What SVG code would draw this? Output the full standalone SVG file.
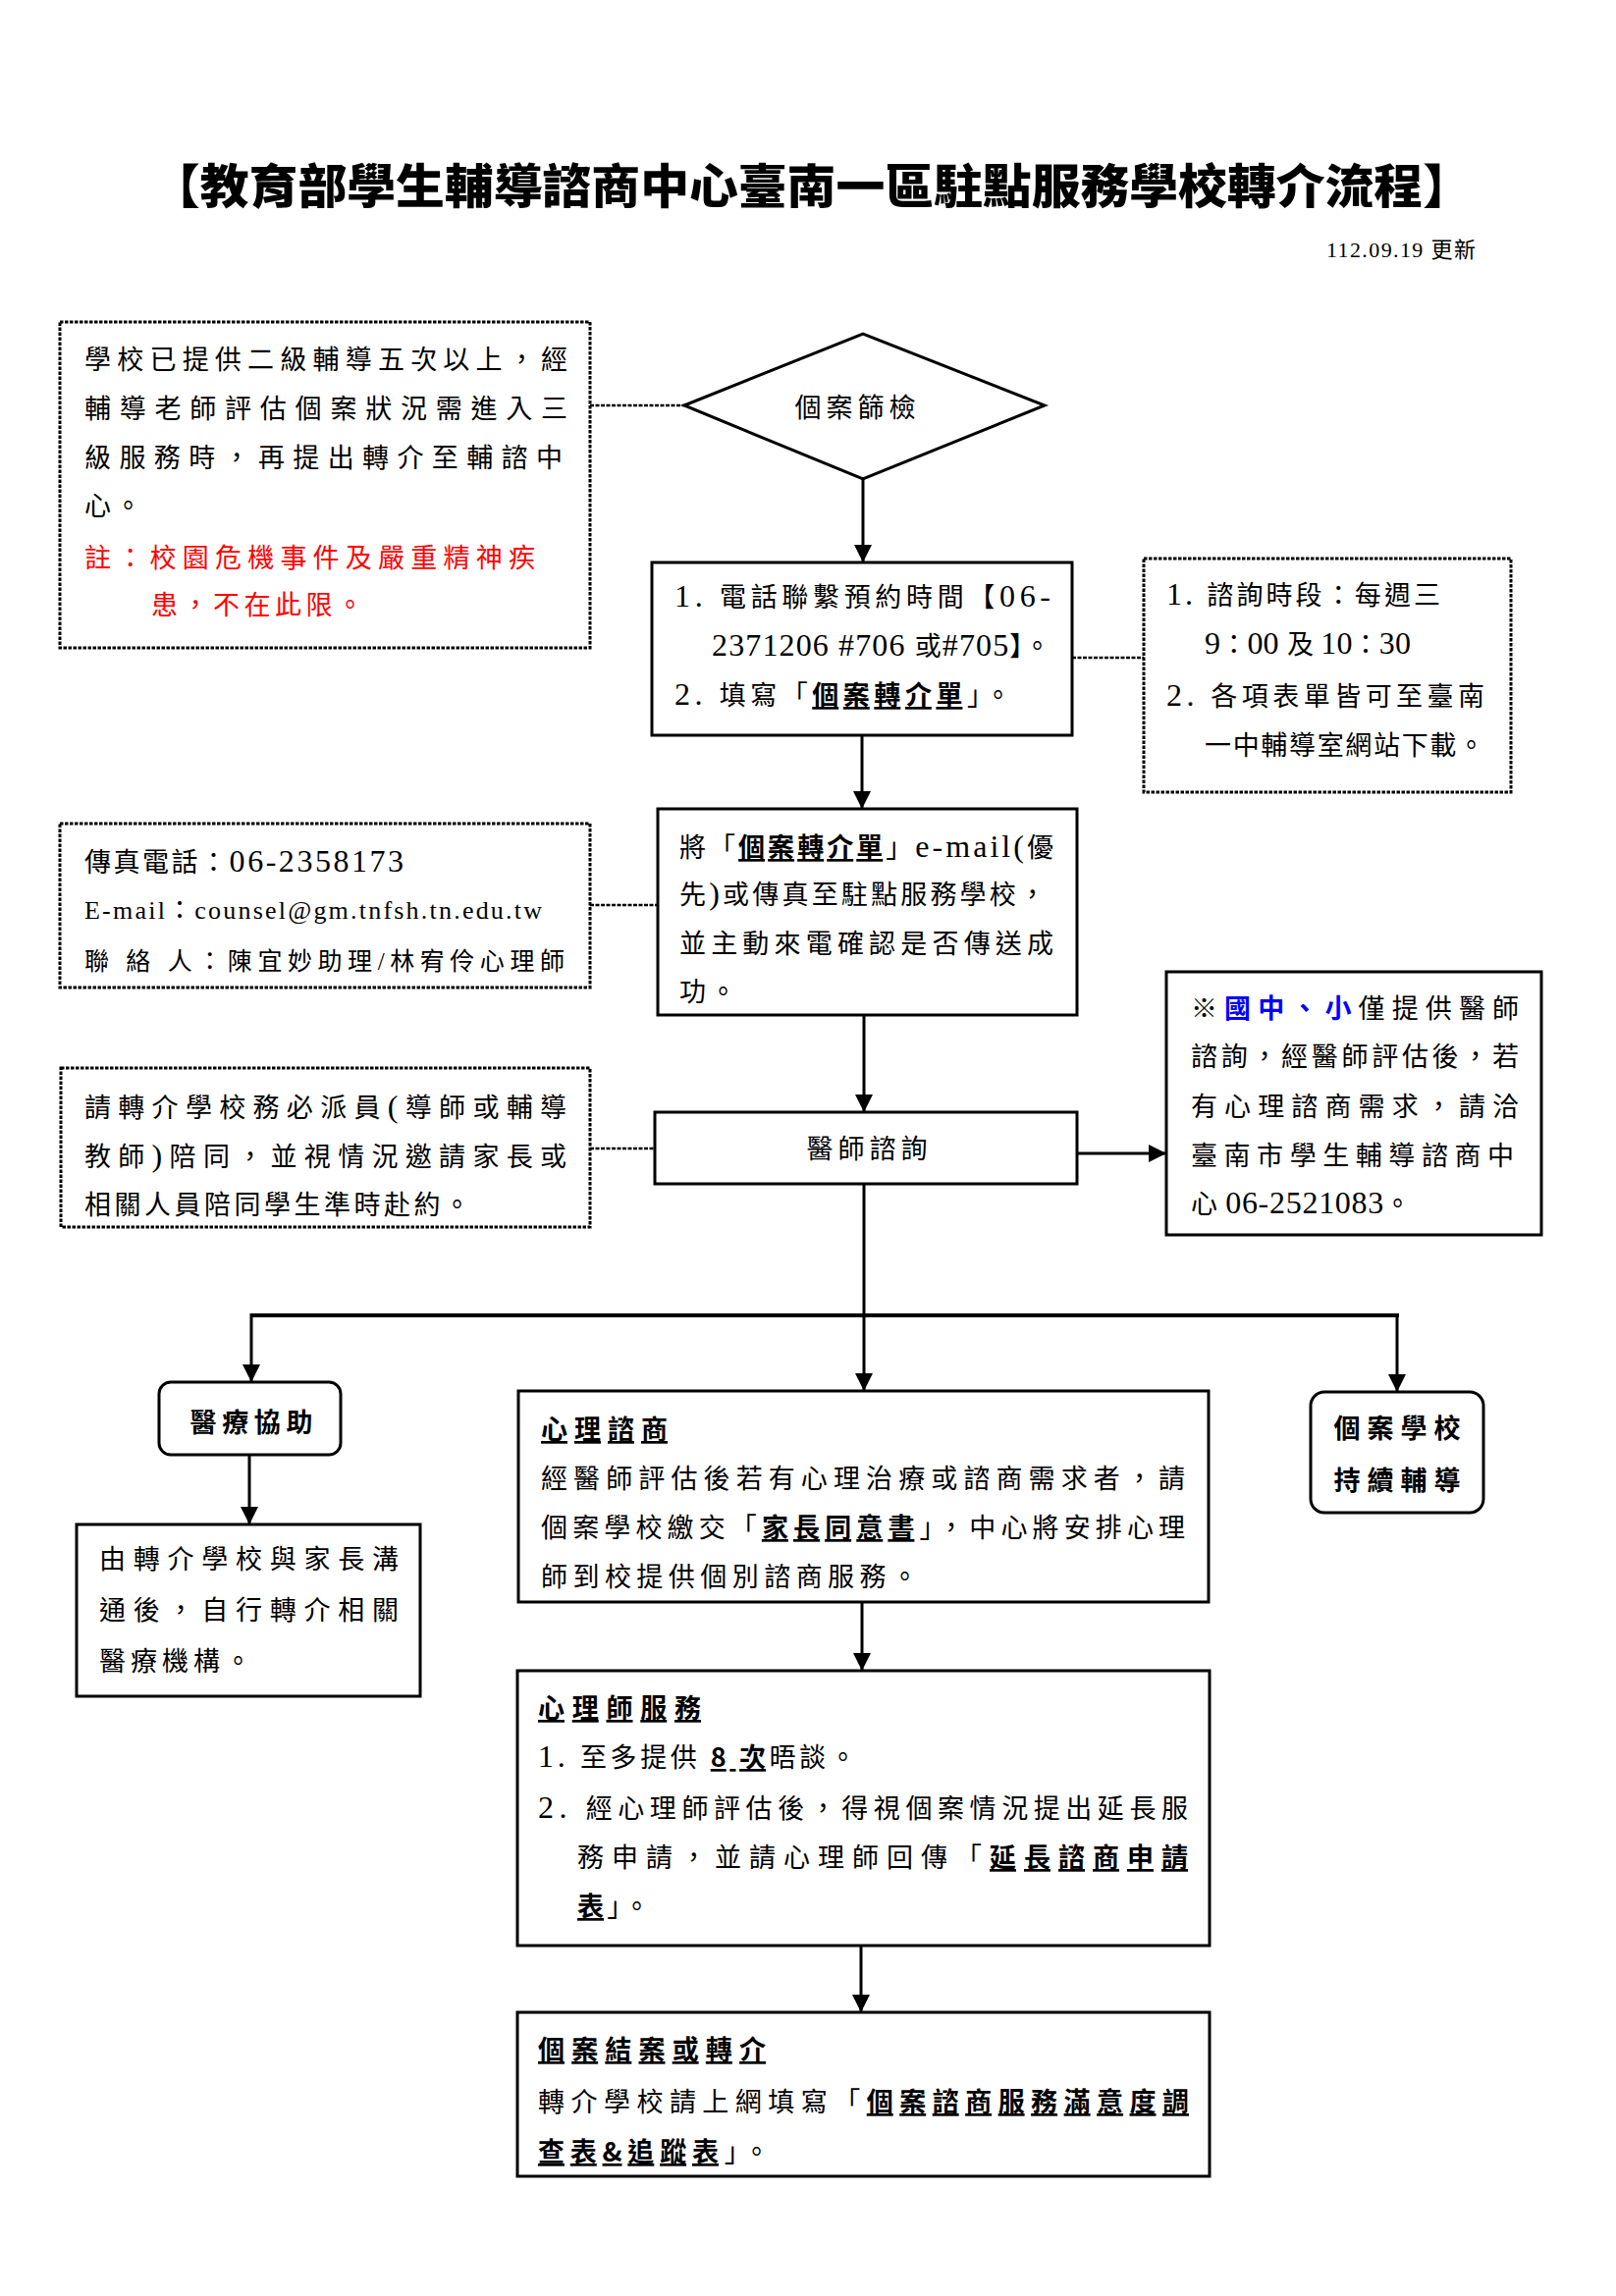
<svg xmlns="http://www.w3.org/2000/svg" width="1646" height="2339" viewBox="0 0 1646 2339">
<style>
.t{font-family:"Liberation Serif","Noto Sans CJK TC",serif;font-size:27px;fill:#000}
.ttl{font-family:"Noto Sans CJK TC",sans-serif;font-weight:900;font-size:48px;fill:#000}
.h{font-family:"Noto Sans CJK TC",sans-serif;font-weight:700}
.bu{font-family:"Noto Sans CJK TC",sans-serif;font-weight:700;text-decoration:underline}
.n{font-size:32px}
.red{fill:#ff0000}
.blue{fill:#0000ff;font-family:"Noto Sans CJK TC",sans-serif;font-weight:700}
.box{fill:#fff;stroke:#000;stroke-width:3}
.dot{fill:#fff;stroke:#000;stroke-width:3;stroke-dasharray:3.5 1.5}
.con{stroke:#000;stroke-width:3;fill:none}
.bar{stroke:#000;stroke-width:4;fill:none}
.dcon{stroke:#000;stroke-width:2.5;stroke-dasharray:4 1.5;fill:none}
</style>
<defs>
<marker id="ah" markerUnits="userSpaceOnUse" markerWidth="18" markerHeight="18" refX="18" refY="9" orient="auto">
<path d="M0,0 L18,9 L0,18 Z" fill="#000"/>
</marker>
</defs>
<rect width="1646" height="2339" fill="#fff"/>

<g id="title">
<text class="ttl" x="154" y="207" textLength="1345" lengthAdjust="spacingAndGlyphs">【教育部學生輔導諮商中心臺南一區駐點服務學校轉介流程】</text>
<text class="t" x="1351" y="262" style="font-size:22px" textLength="152">112.09.19 更新</text>
</g>

<g id="connectors">
<line class="dcon" x1="601" y1="413" x2="697" y2="413"/>
<line class="con" x1="879" y1="488" x2="879" y2="573" marker-end="url(#ah)"/>
<line class="dcon" x1="1092" y1="670" x2="1165" y2="670"/>
<line class="con" x1="878" y1="749" x2="878" y2="824" marker-end="url(#ah)"/>
<line class="dcon" x1="601" y1="922" x2="670" y2="922"/>
<line class="con" x1="880" y1="1034" x2="880" y2="1133" marker-end="url(#ah)"/>
<line class="dcon" x1="601" y1="1170" x2="667" y2="1170"/>
<line class="con" x1="1097" y1="1175" x2="1188" y2="1175" marker-end="url(#ah)"/>
<line class="con" x1="880" y1="1206" x2="880" y2="1417" marker-end="url(#ah)"/>
<line class="bar" x1="256" y1="1340" x2="1425" y2="1340"/>
<line class="con" x1="256" y1="1338" x2="256" y2="1408" marker-end="url(#ah)"/>
<line class="con" x1="1423" y1="1338" x2="1423" y2="1418" marker-end="url(#ah)"/>
<line class="con" x1="254" y1="1482" x2="254" y2="1553" marker-end="url(#ah)"/>
<line class="con" x1="878" y1="1632" x2="878" y2="1702" marker-end="url(#ah)"/>
<line class="con" x1="877" y1="1982" x2="877" y2="2050" marker-end="url(#ah)"/>
</g>

<g id="note-criteria">
<rect class="dot" x="61" y="328" width="540" height="332"/>
<text class="t" x="86" y="376" textLength="492">學校已提供二級輔導五次以上，經</text>
<text class="t" x="86" y="426" textLength="492">輔導老師評估個案狀況需進入三</text>
<text class="t" x="86" y="476" textLength="487">級服務時，再提出轉介至輔諮中</text>
<text class="t" x="86" y="525" textLength="58">心。</text>
<text class="t red" x="86" y="578" textLength="459">註：校園危機事件及嚴重精神疾</text>
<text class="t red" x="154" y="626" textLength="216">患，不在此限。</text>
</g>

<g id="screening">
<polygon class="box" points="697,413 879,340 1064,413 879,488"/>
<text class="t" x="871" y="425" text-anchor="middle" textLength="123">個案篩檢</text>
</g>

<g id="step-phone">
<rect class="box" x="664" y="573" width="428" height="176"/>
<text class="t" x="687" y="618" textLength="383"><tspan class="n">1. </tspan>電話聯繫預約時間【<tspan class="n">06-</tspan></text>
<text class="t" x="725" y="668" textLength="345"><tspan class="n">2371206 #706 </tspan>或<tspan class="n">#705</tspan>】。</text>
<text class="t" x="687" y="718" textLength="343"><tspan class="n">2. </tspan>填寫「<tspan class="bu">個案轉介單</tspan>」。</text>
</g>

<g id="note-time">
<rect class="dot" x="1165" y="569" width="374" height="238"/>
<text class="t" x="1188" y="616" textLength="279"><tspan class="n">1. </tspan>諮詢時段：每週三</text>
<text class="t" x="1227" y="666" textLength="210"><tspan class="n">9</tspan>：<tspan class="n">00 </tspan>及 <tspan class="n">10</tspan>：<tspan class="n">30</tspan></text>
<text class="t" x="1188" y="719" textLength="324"><tspan class="n">2. </tspan>各項表單皆可至臺南</text>
<text class="t" x="1227" y="769" textLength="285">一中輔導室網站下載。</text>
</g>

<g id="step-send">
<rect class="box" x="670" y="824" width="427" height="210"/>
<text class="t" x="692" y="873" textLength="381">將「<tspan class="bu">個案轉介單</tspan>」<tspan class="n">e-mail(</tspan>優</text>
<text class="t" x="692" y="921" textLength="373">先<tspan class="n">)</tspan>或傳真至駐點服務學校，</text>
<text class="t" x="692" y="971" textLength="381">並主動來電確認是否傳送成</text>
<text class="t" x="692" y="1020" textLength="58">功。</text>
</g>

<g id="note-contact">
<rect class="dot" x="61" y="839" width="540" height="167"/>
<text class="t" x="86" y="888" textLength="325">傳真電話：<tspan class="n">06-2358173</tspan></text>
<text class="t" x="86" y="936" style="font-size:26px" textLength="466">E-mail：counsel@gm.tnfsh.tn.edu.tw</text>
<text class="t" x="86" y="988" style="font-size:25px" textLength="489">聯 絡 人：陳宜妙助理/林宥伶心理師</text>
</g>

<g id="note-accompany">
<rect class="dot" x="62" y="1088" width="539" height="162"/>
<text class="t" x="86" y="1138" textLength="491">請轉介學校務必派員<tspan class="n">(</tspan>導師或輔導</text>
<text class="t" x="86" y="1188" textLength="491">教師<tspan class="n">)</tspan>陪同，並視情況邀請家長或</text>
<text class="t" x="86" y="1237" textLength="393">相關人員陪同學生準時赴約。</text>
</g>

<g id="doctor">
<rect class="box" x="667" y="1133" width="430" height="73"/>
<text class="t" x="883" y="1180" text-anchor="middle" textLength="123">醫師諮詢</text>
</g>

<g id="note-junior">
<rect class="box" x="1188" y="990" width="382" height="268"/>
<text class="t" x="1213" y="1037" textLength="334">※<tspan class="blue">國中、小</tspan>僅提供醫師</text>
<text class="t" x="1213" y="1086" textLength="334">諮詢，經醫師評估後，若</text>
<text class="t" x="1213" y="1137" textLength="334">有心理諮商需求，請洽</text>
<text class="t" x="1213" y="1187" textLength="329">臺南市學生輔導諮商中</text>
<text class="t" x="1213" y="1236" textLength="224">心 <tspan class="n">06-2521083</tspan>。</text>
</g>

<g id="medical">
<rect class="box" x="162" y="1408" width="185" height="74" rx="12" ry="12"/>
<text class="t h" x="256" y="1459" text-anchor="middle" textLength="125">醫療協助</text>
</g>

<g id="medical-referral">
<rect class="box" x="78" y="1553" width="350" height="175"/>
<text class="t" x="101" y="1598" textLength="305">由轉介學校與家長溝</text>
<text class="t" x="101" y="1650" textLength="305">通後，自行轉介相關</text>
<text class="t" x="101" y="1702" textLength="155">醫療機構。</text>
</g>

<g id="school-continue">
<rect class="box" x="1335" y="1418" width="176" height="123" rx="14" ry="14"/>
<text class="t h" x="1423" y="1465" text-anchor="middle" textLength="129">個案學校</text>
<text class="t h" x="1423" y="1518" text-anchor="middle" textLength="129">持續輔導</text>
</g>

<g id="counseling">
<rect class="box" x="528" y="1417" width="703" height="215"/>
<text class="t" x="551" y="1466" textLength="129"><tspan class="bu">心理諮商</tspan></text>
<text class="t" x="551" y="1516" textLength="656">經醫師評估後若有心理治療或諮商需求者，請</text>
<text class="t" x="551" y="1566" textLength="656">個案學校繳交「<tspan class="bu">家長同意書</tspan>」，中心將安排心理</text>
<text class="t" x="551" y="1616" textLength="384">師到校提供個別諮商服務。</text>
</g>

<g id="psychologist">
<rect class="box" x="527" y="1702" width="705" height="280"/>
<text class="t" x="548" y="1750" textLength="166"><tspan class="bu">心理師服務</tspan></text>
<text class="t" x="548" y="1800" textLength="324"><tspan class="n">1. </tspan>至多提供 <tspan class="bu">8 次</tspan>晤談。</text>
<text class="t" x="548" y="1852" textLength="662"><tspan class="n">2. </tspan>經心理師評估後，得視個案情況提出延長服</text>
<text class="t" x="588" y="1902" textLength="622">務申請，並請心理師回傳「<tspan class="bu">延長諮商申請</tspan></text>
<text class="t" x="588" y="1952" textLength="74"><tspan class="bu">表</tspan>」。</text>
</g>

<g id="closing">
<rect class="box" x="527" y="2050" width="705" height="167"/>
<text class="t" x="548" y="2098" textLength="232"><tspan class="bu">個案結案或轉介</tspan></text>
<text class="t" x="548" y="2151" textLength="663">轉介學校請上網填寫「<tspan class="bu">個案諮商服務滿意度調</tspan></text>
<text class="t" x="548" y="2202" textLength="236"><tspan class="bu">查表&amp;追蹤表</tspan>」。</text>
</g>
</svg>
